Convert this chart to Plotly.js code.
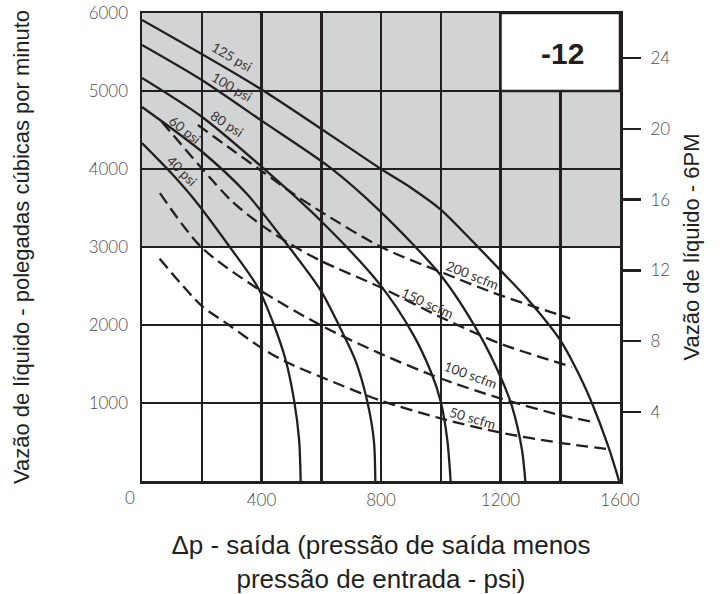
<!DOCTYPE html>
<html><head><meta charset="utf-8">
<script src="https://cdn.plot.ly/plotly-3.0.1.min.js"></script>
<style>html,body{margin:0;padding:0;background:#fff}#chart{width:723px;height:594px}</style>
</head><body><div id="chart"></div>
<script>
// ---- data ----
const psi40X  = [0, 100, 177, 294, 387, 442, 481, 509, 526, 531];
const psi40Y  = [4333, 3940, 3600, 3000, 2488, 1997, 1549, 1037, 525, 0];
const psi60X  = [0, 202, 350, 492, 598, 659, 714, 753, 776, 781];
const psi60Y  = [4795, 4218, 3685, 3000, 2445, 1997, 1549, 1037, 525, 0];
const psi80X  = [0, 200, 400, 600, 794, 906, 967, 1000, 1022, 1033];
const psi80Y  = [5167, 4670, 4030, 3330, 2530, 1890, 1400, 1016, 525, 0];
const psi100X = [0, 200, 400, 629, 794, 1000, 1128, 1200, 1239, 1272, 1283];
const psi100Y = [5590, 5141, 4620, 4020, 3469, 2637, 1890, 1336, 951, 397, 0];
const psi125X = [0, 400, 800, 900, 1000, 1117, 1200, 1294, 1400, 1472, 1506, 1561, 1597];
const psi125Y = [5910, 5020, 4000, 3760, 3480, 3030, 2700, 2317, 1805, 1293, 1000, 440, 0];

const scfm50X  = [59, 198, 292, 403, 481, 598, 794, 1000, 1200, 1400, 1567];
const scfm50Y  = [2850, 2253, 1997, 1698, 1528, 1336, 1037, 802, 620, 490, 405];
const scfm100X = [60, 198, 387, 598, 794, 1000, 1200, 1400, 1506];
const scfm100Y = [3690, 3000, 2466, 1997, 1640, 1314, 1058, 845, 760];
const scfm150X = [66, 200, 300, 400, 500, 600, 800, 1000, 1200, 1439];
const scfm150Y = [4607, 4010, 3590, 3280, 3030, 2820, 2480, 2100, 1760, 1463];
const scfm200X = [187, 300, 400, 500, 600, 800, 1000, 1200, 1433];
const scfm200Y = [4564, 4250, 3975, 3700, 3450, 3000, 2680, 2380, 2085];

const xTickVals   = [0, 200, 400, 600, 800, 1000, 1200, 1400, 1600];
const xTickText   = ['', '', '400', '', '800', '', '1200', '', '1600'];
const yTickVals   = [1000, 2000, 3000, 4000, 5000, 6000];
const yTickText   = ['1000', '2000', '3000', '4000', '5000', '6000'];
const gpmTickVals = [4, 8, 12, 16, 20, 24];
const gpmTickText = ['4', '8', '12', '16', '20', '24'];

const psiLabels  = ['40 psi', '60 psi', '80 psi', '100 psi', '125 psi'];
const scfmLabels = ['50 scfm', '100 scfm', '150 scfm', '200 scfm'];
const sizeLabel  = '-12';

// ---- styling ----
const INK = '#231f20';
const GRAY = '#d1d3d4';
const TICKFONT = {family: 'Lato, "Open Sans", sans-serif', size: 17, color: '#4d4d4f', weight: 300};
const YTITLEFONT = {family: '"Liberation Sans", Arial, sans-serif', size: 22, color: INK};
const XTITLEFONT = {family: '"Liberation Sans", Arial, sans-serif', size: 26, color: INK};
const LBLFONT = {family: 'Lato, "Open Sans", sans-serif', size: 13.5, color: '#3a3536', weight: 400};

function solid(x, y) {
  return {x: x, y: y, mode: 'lines', type: 'scatter', hoverinfo: 'skip',
          line: {color: INK, width: 2.3, shape: 'spline', smoothing: 0.8}};
}
function dashed(x, y) {
  return {x: x, y: y, mode: 'lines', type: 'scatter', hoverinfo: 'skip',
          line: {color: INK, width: 2.3, shape: 'spline', smoothing: 0.8, dash: '12px,6px'}};
}

const traces = [
  solid(psi40X, psi40Y), solid(psi60X, psi60Y), solid(psi80X, psi80Y),
  solid(psi100X, psi100Y), solid(psi125X, psi125Y),
  dashed(scfm50X, scfm50Y), dashed(scfm100X, scfm100Y),
  dashed(scfm150X, scfm150Y), dashed(scfm200X, scfm200Y),
  {x: [], y: [], yaxis: 'y2', type: 'scatter', mode: 'lines', hoverinfo: 'skip', showlegend: false}
];

// label placement (data coords) and angles
const psiPos  = [[134, 3974, 45], [144, 4500, 38], [285, 4577, 33], [301, 5051, 30], [301, 5436, 30]];
const scfmPos = [[1105, 808, 16], [1101, 1359, 20], [954, 2282, 24], [1105, 2641, 22]];

const annotations = [];
psiLabels.forEach((t, i) => annotations.push({
  x: psiPos[i][0], y: psiPos[i][1], xref: 'x', yref: 'y', text: t, showarrow: false,
  textangle: psiPos[i][2], font: LBLFONT, xanchor: 'center', yanchor: 'middle'}));
scfmLabels.forEach((t, i) => annotations.push({
  x: scfmPos[i][0], y: scfmPos[i][1], xref: 'x', yref: 'y', text: t, showarrow: false,
  textangle: scfmPos[i][2], font: LBLFONT, xanchor: 'center', yanchor: 'middle'}));
annotations.push({x: 1409, y: 5487, xref: 'x', yref: 'y', text: '<b>' + sizeLabel + '</b>', showarrow: false,
  font: {family: '"Liberation Sans", Arial, sans-serif', size: 30, color: INK}});
annotations.push({x: -0.025, y: -0.036, xref: 'paper', yref: 'paper', text: '0', showarrow: false,
  font: TICKFONT, xanchor: 'center', yanchor: 'middle'});

const layout = {
  width: 723, height: 594,
  margin: {l: 142, r: 103, t: 13, b: 113},
  paper_bgcolor: '#fff', plot_bgcolor: '#fff',
  showlegend: false,
  xaxis: {
    range: [0, 1600], tickvals: xTickVals, ticktext: xTickText,
    showgrid: true, gridcolor: INK, gridwidth: 2.5, zeroline: false,
    showline: true, mirror: true, linecolor: INK, linewidth: 2.5,
    ticks: '', tickfont: TICKFONT, ticklabelstandoff: 2,
    title: {text: 'Δp - saída (pressão de saída menos<br>pressão de entrada - psi)', font: XTITLEFONT, standoff: 31}
  },
  yaxis: {
    range: [0, 6000], tickvals: yTickVals, ticktext: yTickText,
    showgrid: true, gridcolor: INK, gridwidth: 2.5, zeroline: false,
    showline: true, mirror: true, linecolor: INK, linewidth: 2.5,
    ticks: '', tickfont: TICKFONT, ticklabelstandoff: 8,
    title: {text: 'Vazão de líquido - polegadas cúbicas por minuto', font: YTITLEFONT, standoff: 53}
  },
  yaxis2: {
    overlaying: 'y', side: 'right', range: [0.1, 26.55],
    tickvals: gpmTickVals, ticktext: gpmTickText,
    showgrid: false, zeroline: false, showline: false,
    ticks: 'outside', ticklen: 20, tickwidth: 2.5, tickcolor: INK, tickfont: TICKFONT,
    ticklabelstandoff: 6,
    title: {text: 'Vazão de líquido - 6PM', font: YTITLEFONT, standoff: 14}
  },
  shapes: [
    {type: 'rect', xref: 'x', yref: 'y', x0: 0, x1: 1600, y0: 3000, y1: 6000,
     fillcolor: GRAY, line: {width: 0}, layer: 'below'},
    {type: 'rect', xref: 'x', yref: 'y', x0: 1200, x1: 1600, y0: 5000, y1: 6000,
     fillcolor: '#fff', line: {color: INK, width: 2.5}, layer: 'between'}
  ],
  annotations: annotations
};

Plotly.newPlot('chart', traces, layout, {staticPlot: true, displayModeBar: false});
</script>
</body></html>
